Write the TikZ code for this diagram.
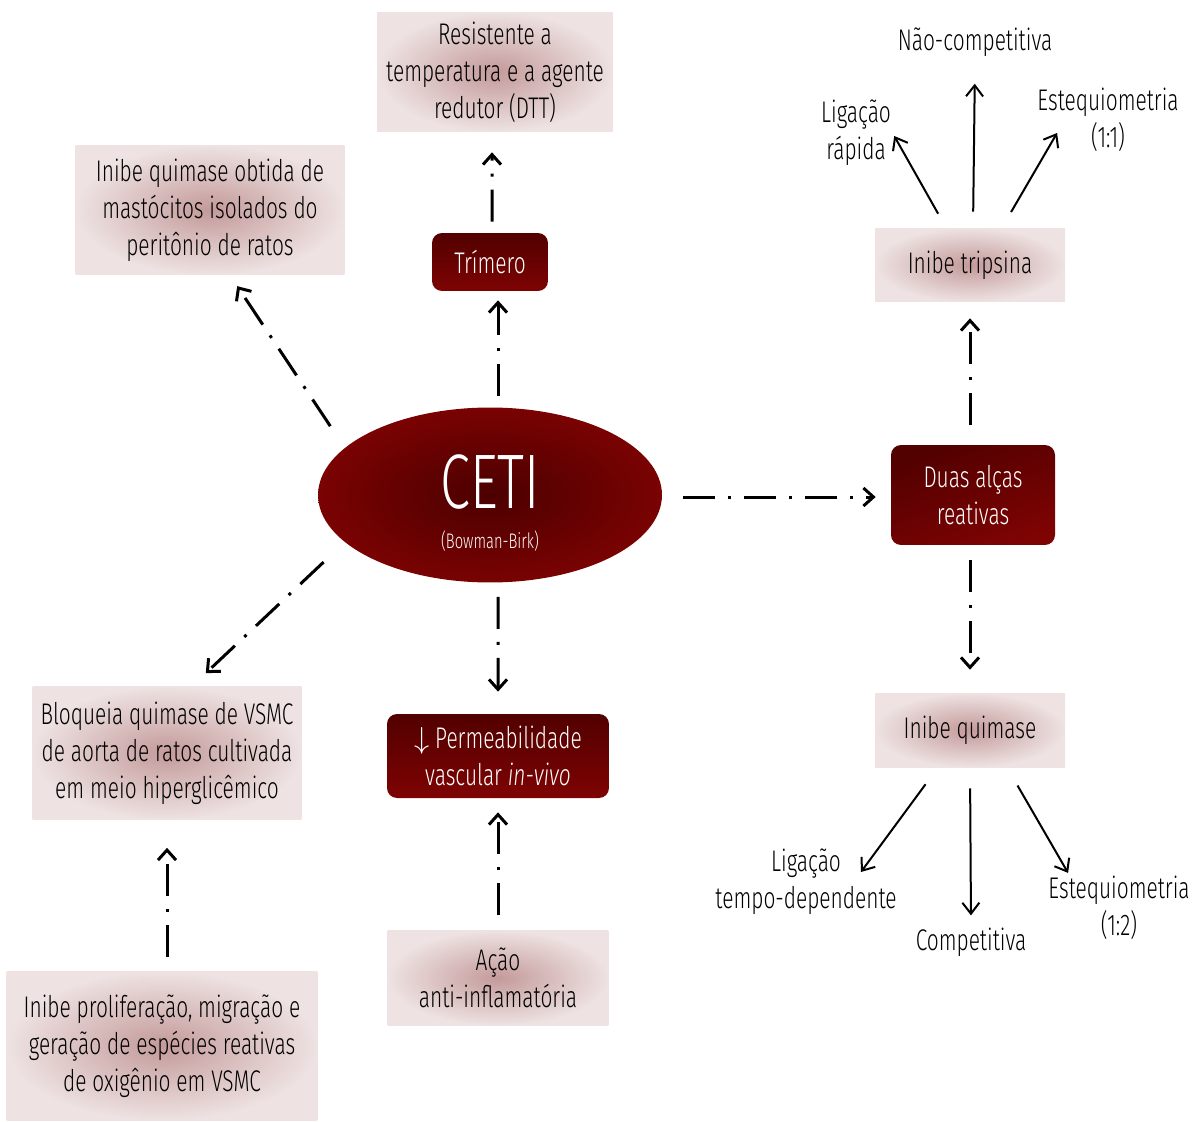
\documentclass[tikz,border=0pt]{standalone}
\usepackage{fontspec}
\setmainfont{Fira Sans}[UprightFont=* Light, ItalicFont=* Light Italic, FakeStretch=0.7]
\usetikzlibrary{arrows.meta,shapes.geometric}
\definecolor{pinkIn}{HTML}{C49A9A}
\definecolor{pinkOut}{HTML}{EEE2E2}
\definecolor{darkTop}{HTML}{520000}
\definecolor{darkBot}{HTML}{7E0303}
\definecolor{cetiIn}{HTML}{4C0000}
\definecolor{cetiOut}{HTML}{7A0202}
\newcommand\boxfont{\fontsize{17}{21}\selectfont}

\begin{document}
\begin{tikzpicture}[x=0.02cm,y=-0.02cm,
    pinkbox/.style={rectangle, inner color=pinkIn, outer color=pinkOut, align=center, font=\boxfont, text=black},
    darkbox/.style={rectangle, rounded corners=0.2cm, top color=darkTop, bottom color=darkBot, align=center, font=\boxfont, text=white},
    lbl/.style={align=center, font=\boxfont, text=black, inner sep=0.06cm},
    linkarrow/.style={line width=0.06cm, dash pattern=on 0.64cm off 0.26cm on 0.06cm off 0.26cm, -{Straight Barb[length=0.2cm,width=0.36cm]}},
    thinarrow/.style={line width=0.04cm, -{Straight Barb[length=0.22cm,width=0.34cm]}}]
    \useasboundingbox (0,0) rectangle (1195,1121);

    % Center
    \node[ellipse, inner sep=0pt, minimum width=6.88cm, minimum height=3.5cm, inner color=cetiIn, outer color=cetiOut] (ceti) at (490,495) {};
    \node[text=white, font=\fontsize{44}{44}\selectfont] (cetiname) at (490,482) {CETI};
    \node[text=white, font=\fontsize{12}{14}\selectfont] (cetisub) at (490,541) {(Bowman-Birk)};

    % Top and left boxes
    \node[pinkbox, minimum width=4.72cm, minimum height=2.4cm] (resist) at (495,72) {Resistente a\\temperatura e a agente\\redutor (DTT)};
    \node[pinkbox, minimum width=5.38cm, minimum height=2.6cm] (mastoc) at (210,210) {Inibe quimase obtida de\\mastócitos isolados do\\peritônio de ratos};
    \node[darkbox, minimum width=2.32cm, minimum height=1.16cm] (trimero) at (490,262) {Trímero};
    \node[pinkbox, minimum width=5.38cm, minimum height=2.66cm] (bloqueia) at (167,753) {Bloqueia quimase de VSMC\\de aorta de ratos cultivada\\em meio hiperglicêmico};
    \node[pinkbox, minimum width=6.22cm, minimum height=2.98cm] (prolif) at (162,1046) {Inibe proliferação, migração e\\geração de espécies reativas\\de oxigênio em VSMC};

    % Bottom middle boxes
    \node[darkbox, minimum width=4.44cm, minimum height=1.68cm] (permeab) at (498,756) {$\downarrow$ Permeabilidade\\vascular \textit{in-vivo}};
    \node[pinkbox, minimum width=4.42cm, minimum height=1.9cm] (antiinf) at (498,978) {Ação\\anti-inflamatória};

    % Right column
    \node[darkbox, minimum width=3.28cm, minimum height=2cm, shading angle=20] (alcas) at (973,495) {Duas alças\\reativas};
    \node[pinkbox, minimum width=3.8cm, minimum height=1.48cm] (tripsina) at (970,265) {Inibe tripsina};
    \node[pinkbox, minimum width=3.8cm, minimum height=1.48cm] (quimase) at (970,730) {Inibe quimase};

    % Labels
    \node[lbl] (naocomp) at (975,42) {Não-competitiva};
    \node[lbl] (ligrap) at (856,133) {Ligação\\rápida};
    \node[lbl] (esteqA) at (1108,120) {Estequiometria\\(1:1)};
    \node[lbl] (ligtempo) at (806,882) {Ligação\\tempo-dependente};
    \node[lbl] (competit) at (971,942) {Competitiva};
    \node[lbl] (esteqB) at (1119,908) {Estequiometria\\(1:2)};

    % Dash-dot connectors
    \draw[linkarrow, shorten <=0.22cm, shorten >=0.18cm] ([xshift=0.16cm]ceti.north) -- ([xshift=0.16cm]trimero.south);
    \draw[linkarrow, shorten <=0.22cm, shorten >=0.4cm] ([xshift=0.04cm]trimero.north) -- ([xshift=-0.06cm]resist.south);
    \draw[linkarrow, shorten <=0.52cm, shorten >=0.26cm] (ceti.162) -- ([xshift=0.4cm]mastoc.south);
    \draw[linkarrow, shorten <=0.58cm, shorten >=0.38cm] (ceti.198) -- ([xshift=0.5cm]bloqueia.north);
    \draw[linkarrow, shorten <=0.28cm, shorten >=0.44cm] ([xshift=0.16cm]ceti.south) -- (permeab.north);
    \draw[linkarrow, shorten <=0.3cm, shorten >=0.28cm] (antiinf.north) -- (permeab.south);
    \draw[linkarrow, shorten <=0.28cm, shorten >=0.56cm] (prolif.north -| bloqueia.south) -- (bloqueia.south);
    \draw[linkarrow, shorten <=0.42cm, shorten >=0.3cm] ([yshift=-0.04cm]ceti.east) -- ([yshift=-0.04cm]alcas.west);
    \draw[linkarrow, shorten <=0.4cm, shorten >=0.32cm] (alcas.north -| tripsina.south) -- (tripsina.south);
    \draw[linkarrow, shorten <=0.3cm, shorten >=0.46cm] (alcas.south -| quimase.north) -- (quimase.north);

    % Solid connectors
    \draw[thinarrow, shorten <=0.32cm] ([xshift=-0.48cm]tripsina.north) -- ([yshift=-0.06cm]ligrap.east);
    \draw[thinarrow, shorten <=0.32cm, shorten >=0.48cm] ([xshift=0.06cm]tripsina.north) -- (naocomp.south);
    \draw[thinarrow, shorten <=0.36cm] ([xshift=0.64cm]tripsina.north) -- ([xshift=0.46cm,yshift=-0.26cm]esteqA.west);
    \draw[thinarrow, shorten <=0.42cm] ([xshift=-0.64cm]quimase.south) -- ([xshift=-0.78cm,yshift=0.2cm]ligtempo.east);
    \draw[thinarrow, shorten <=0.42cm, shorten >=0.18cm] (quimase.south) -- (competit.north);
    \draw[thinarrow, shorten <=0.42cm] ([xshift=0.74cm]quimase.south) -- ([xshift=0.46cm]esteqB.north west);
\end{tikzpicture}
\end{document}
